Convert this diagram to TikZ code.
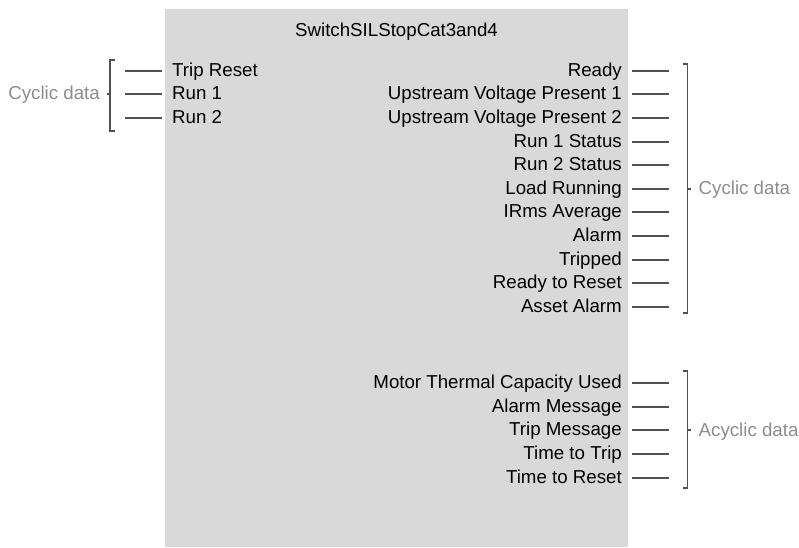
\documentclass[tikz,border=0pt]{standalone}
\usepackage{fontspec}
\setmainfont{Liberation Sans}
\usepackage{xcolor}
\definecolor{blockfill}{HTML}{D9D9D9}
\definecolor{wire}{HTML}{505153}
\definecolor{note}{HTML}{8C8C8C}
\usetikzlibrary{calc}

\tikzset{
  port/.style={draw=wire, line width=2pt},
  brace/.style={draw=wire, line width=1.7pt},
  sig/.style={inner sep=0pt, font=\fontsize{18.7pt}{22pt}\selectfont},
  grp/.style={sig, text=note},
}

\begin{document}
\begin{tikzpicture}[x=1pt, y=-1pt]
  % picture is laid out in pixels of the 799 x 547 reference, y grows downwards.
  \useasboundingbox (0,0) rectangle (799,547);
  \fill[blockfill] (165,9) rectangle (628,547);   % function block
  \node[sig, anchor=base] (title) at (396.5,36) {SwitchSILStopCat3and4};
  % Inputs.
  \foreach \txt [count=\i from 0] in {Trip Reset, Run 1, Run 2} {
    \pgfmathsetmacro\y{round(70.7+23.5*\i)}
    \node[sig, anchor=base west] (in\i) at (172,\y+5.5) {\txt};
    \coordinate (inA\i) at (125,\y);
    \coordinate (inB\i) at (162,\y);
    \draw[port] (inA\i) -- (inB\i);
  }
  % Cyclic outputs.
  \foreach \txt [count=\i from 0] in {Ready, Upstream Voltage Present 1, Upstream Voltage Present 2,
      Run 1 Status, Run 2 Status, Load Running, IRms Average, Alarm, Tripped,
      Ready to Reset, Asset Alarm} {
    \pgfmathsetmacro\y{round(70.7+23.6*\i)}
    \node[sig, anchor=base east] (out\i) at (622,\y+5.5) {\txt};
    \coordinate (outA\i) at (632,\y);
    \coordinate (outB\i) at (669,\y);
    \draw[port] (outA\i) -- (outB\i);
  }
  % Acyclic outputs.
  \foreach \txt [count=\i from 0] in {Motor Thermal Capacity Used, Alarm Message,
      Trip Message, Time to Trip, Time to Reset} {
    \pgfmathsetmacro\y{round(382.7+23.8*\i)}
    \node[sig, anchor=base east] (acy\i) at (622,\y+5.5) {\txt};
    \coordinate (acyA\i) at (632,\y);
    \coordinate (acyB\i) at (669,\y);
    \draw[port] (acyA\i) -- (acyB\i);
  }
  % Brackets and their group labels.
  \draw[brace] (115,60) -- (110,60) -- (110,131) -- (115,131);
  \draw[brace] (110,94) -- (106.5,94);
  \node[grp, anchor=base east] (cycin) at (100,99.3) {Cyclic data};
  \draw[brace] (683,64) -- (687.5,64) -- (687.5,313) -- (683,313);
  \draw[brace] (687.5,189) -- (691,189);
  \node[grp, anchor=base west] (cycout) at (698.5,194.5) {Cyclic data};
  \draw[brace] (683,371) -- (687.5,371) -- (687.5,488) -- (683,488);
  \draw[brace] (687.5,430) -- (691,430);
  \node[grp, anchor=base west] (acyout) at (698.5,436) {Acyclic data};
\end{tikzpicture}
\end{document}
